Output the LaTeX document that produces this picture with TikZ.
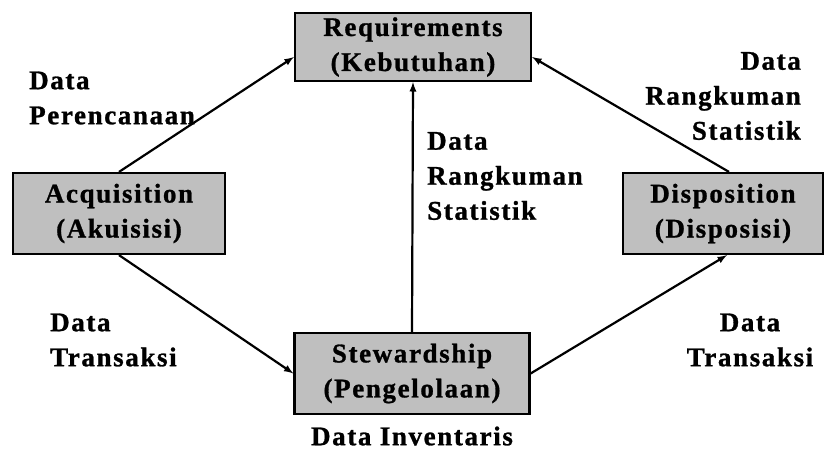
\documentclass[tikz,border=0pt]{standalone}
\usepackage{fontspec}
\setmainfont{Liberation Serif Bold}[LetterSpace=6, FakeBold=1]
\usetikzlibrary{calc}

\tikzset{
  block/.style={draw=black, line width=2.2pt, fill=lightgray, inner sep=0pt, align=center},
  lbl/.style={inner sep=0pt},
  flow/.style={line width=2.2pt, -latex}
}

\begin{document}
\fontsize{27}{35}\selectfont
\begin{tikzpicture}[x=1pt, y=-1pt]
    \useasboundingbox (0,0) rectangle (824,451);
    % boxes
    \node [block, minimum width=236pt, minimum height=68pt] (req) at (413,47)
      {Requirements\\(Kebutuhan)};
    \node [block, minimum width=212pt, minimum height=81pt] (acq) at (119,213.5)
      {Acquisition\\(Akuisisi)};
    \node [block, minimum width=235pt, minimum height=81pt] (stw) at (412,373.5)
      {Stewardship\\(Pengelolaan)};
    \node [block, minimum width=200pt, minimum height=81pt] (dis) at (723,213.5)
      {Disposition\\(Disposisi)};
      \draw [flow] (acq.north) -- ($(req.west)+(0,10)$);
      \draw [flow] (acq.south) -- (stw.west);
      \draw [flow] (stw.north) -- (req.south);
      \draw [flow] (stw.east) -- ($(dis.south)+(4,0)$);
      \draw [flow] ($(dis.north)+(6,0)$) -- ($(req.east)+(0,10)$);
    % labels
    \node [lbl, align=left, anchor=west] (planlbl) at (29,98) {Data\\Perencanaan};
    \node [lbl, align=left, anchor=west] (summid) at (427,176) {Data\\Rangkuman\\Statistik};
    \node [lbl, align=right, anchor=east] (sumright) at (801,96) {Data\\Rangkuman\\Statistik};
    \node [lbl, align=left, anchor=west] (trleft) at (50,340) {Data\\Transaksi};
    \node [lbl, align=center] (trright) at (750,340) {Data\\Transaksi};
    \node [lbl] (invlbl) at (412,436) {Data Inventaris};
  \end{tikzpicture}
\end{document}
